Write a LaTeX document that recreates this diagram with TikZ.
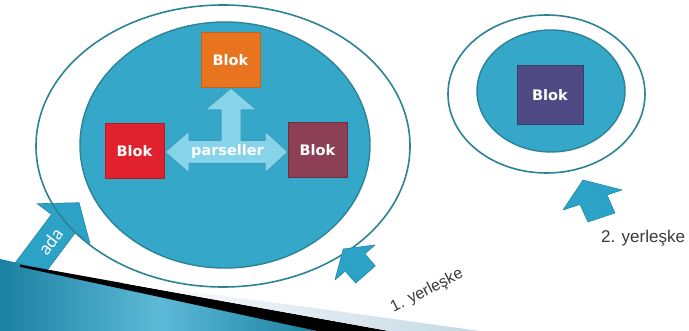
\documentclass[tikz,border=0pt]{standalone}
\usepackage{fontspec}
\newfontfamily\dvfont{DejaVu Sans}
\newfontfamily\arfont{Liberation Sans}
\newfontfamily\cafont{Carlito}
\definecolor{tealfill}{HTML}{35A8C9}
\definecolor{ringc}{HTML}{2C8396}
\definecolor{arrc}{HTML}{2CA2C6}
\definecolor{arrd}{HTML}{2389A8}
\definecolor{lightarr}{HTML}{86D3EA}
\definecolor{lightarrd}{HTML}{3B9DBA}
\definecolor{orangeC}{HTML}{E9741F}
\definecolor{orangeD}{HTML}{C75F17}
\definecolor{redC}{HTML}{E1222E}
\definecolor{redD}{HTML}{B31A25}
\definecolor{maroonC}{HTML}{8D3F55}
\definecolor{maroonD}{HTML}{6C2F41}
\definecolor{purpC}{HTML}{4F4A84}
\definecolor{purpD}{HTML}{3C3868}
\definecolor{bandD}{HTML}{1B80A2}
\definecolor{bandL}{HTML}{5DBAD7}
\definecolor{paleC}{HTML}{C4D9E4}
\definecolor{txtC}{HTML}{3A3A3A}
\tikzset{
  ringline/.style={draw=ringc, line width=1.6pt},
  innerell/.style={fill=tealfill, draw=ringc, line width=1.4pt},
  blok/.style={rectangle, inner sep=0pt, text=white, line width=1pt,
    font={\dvfont\bfseries\fontsize{14.5}{16}\selectfont}},
  bigarrow/.style={fill=arrc, draw=arrd, line width=0.6pt, line join=round},
  lbl/.style={text=txtC, font={\arfont\fontsize{16}{18}\selectfont}, inner sep=0pt}
}
\begin{document}
\begin{tikzpicture}[x=1pt,y=-1pt]
\useasboundingbox (0,0) rectangle (689,331);
\fill[white] (0,0) rectangle (689,331);

% ada arrow (under the band)
\draw[bigarrow] (79.1,202.7) -- (89.9,243.3) -- (75.5,232.5) -- (33.5,288.5)
  -- (9.5,270.5) -- (51.5,214.5) -- (37.1,203.7) -- cycle;
\node[text=white, font={\cafont\fontsize{19}{20}\selectfont}, rotate=53, inner sep=0pt]
  (ada) at (50.3,241.1) {ada};

% bottom-left corner band
\shade[left color=bandD, right color=bandD, middle color=bandL]
  (0,259) -- (317,331) -- (0,331) -- cycle;
\fill[black] (20,264.6) -- (389,331) -- (317,331) -- (20,266.9) -- cycle;
\shade[left color=white, right color=paleC]
  (120,282.6) -- (300,306) -- (480,331) -- (389,331) -- cycle;

% first campus
\draw[ringline] (223,146) ellipse [x radius=187pt, y radius=141pt];
\draw[innerell] (225,145) ellipse [x radius=145pt, y radius=123pt];

% second campus
\draw[ringline] (546.5,94) ellipse [x radius=98.5pt, y radius=79pt];
\draw[innerell] (551,91) ellipse [x radius=74pt, y radius=61pt];

% blocks
\node[blok, fill=orangeC, draw=orangeD, minimum width=59pt, minimum height=55pt] (b1) at (230.5,60.5) {Blok};
\node[blok, fill=redC, draw=redD, minimum width=59pt, minimum height=55pt] (b2) at (134.5,151.5) {Blok};
\node[blok, fill=maroonC, draw=maroonD, minimum width=59pt, minimum height=55pt] (b3) at (317.5,150.5) {Blok};
\node[blok, fill=purpC, draw=purpD, minimum width=66pt, minimum height=59pt] (b4) at (550,95.5) {Blok};

% parcel arrow (three-way)
\draw[fill=lightarr, draw=lightarrd, line width=1pt, line join=round]
  (165,152) -- (189,131) -- (189,140.5) -- (221,140.5) -- (221,110) -- (205,110)
  -- (231,88) -- (257,110) -- (241,110) -- (241,140.5) -- (265,140.5) -- (265,131)
  -- (288,152) -- (265,173) -- (265,163.5) -- (189,163.5) -- (189,173) -- cycle;
\node[text=white, font={\dvfont\bfseries\fontsize{14.5}{16}\selectfont}, inner sep=0pt]
  (pars) at (227.5,152) {parseller};

% campus arrows
\draw[bigarrow] (343.2,249) -- (375,245) -- (364.8,253.9) -- (375.3,265.9)
  -- (355.7,283.1) -- (345.2,271.1) -- (335,280) -- cycle;
\draw[bigarrow] (583,180) -- (622,190) -- (607,195) -- (615,213)
  -- (588,222) -- (580,204.5) -- (563,210) -- cycle;

% labels
\node[lbl, rotate=27] (y1) at (427,291) {1. yerleşke};
\node[lbl, anchor=base west, font={\arfont\fontsize{17}{18}\selectfont}] (y2) at (601,243) {2. yerleşke};
\end{tikzpicture}
\end{document}
